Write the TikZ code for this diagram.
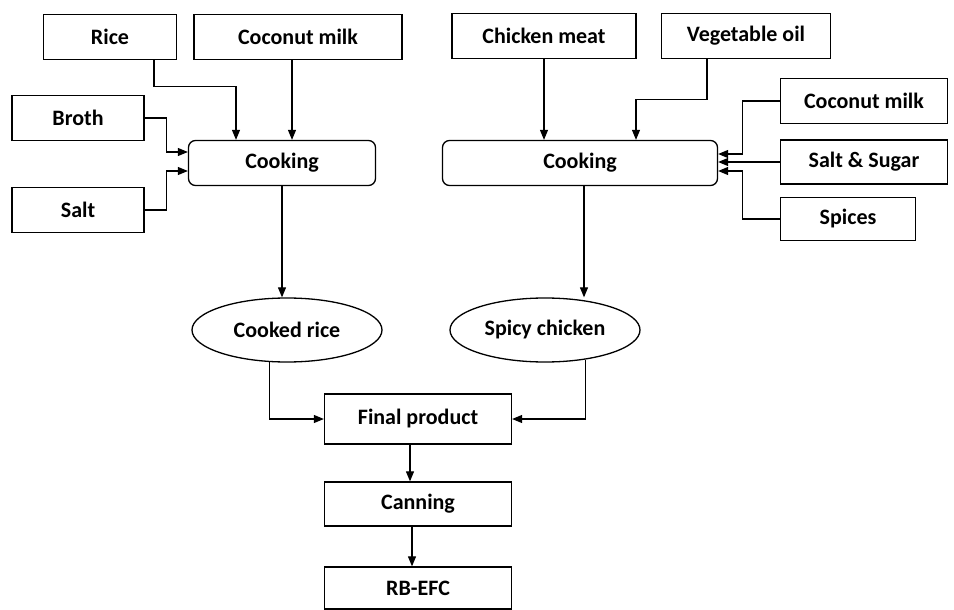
\documentclass[tikz,border=0pt]{standalone}
\usepackage{fontspec}
\setmainfont{Carlito}
\usepackage{tikz}
\usetikzlibrary{arrows.meta,shapes.geometric}

\tikzset{
    box/.style={draw, rectangle, line width=1.3pt, inner sep=0pt, minimum height=45pt},
    proc/.style={box, rounded corners=7pt},
    prod/.style={draw, ellipse, line width=1.3pt, inner sep=0pt, minimum width=190pt, minimum height=64pt},
    arr/.style={-{Triangle[length=10pt,width=8pt]}, line width=1.1pt}
}

\begin{document}
\begin{tikzpicture}[x=1pt, y=-1pt, font=\fontsize{22}{26}\selectfont\bfseries]
        \useasboundingbox (0,0) rectangle (954,610);
        % rice side
        \node[box, minimum width=133pt] (rice) at (110,37) {Rice};
        \node[box, minimum width=208pt] (milkA) at (298,37) {Coconut milk};
        \node[box, minimum width=132pt] (broth) at (78,118) {Broth};
        \node[box, minimum width=132pt] (salt) at (78,210) {Salt};
        \node[proc, minimum width=187pt] (cookA) at (282,163) {Cooking};
        \node[prod] (riceC) at (287,330) {Cooked rice};
        % chicken side
        \node[box, minimum width=184pt] (chick) at (544,36) {Chicken meat};
        \node[box, minimum width=169pt] (oil) at (746,36) {Vegetable oil};
        \node[box, minimum width=167pt] (milkB) at (864,101) {Coconut milk};
        \node[box, minimum width=167pt, minimum height=44pt] (sugar) at (864,162) {Salt \& Sugar};
        \node[box, minimum width=135pt, minimum height=43pt] (spices) at (848,219) {Spices};
        \node[proc, minimum width=275pt] (cookB) at (580,163) {Cooking};
        \node[prod] (chickC) at (545,330) {Spicy chicken};
        % end of line
        \node[box, minimum width=187pt, minimum height=50pt] (final) at (418,419) {Final product};
        \node[box, minimum width=187pt, minimum height=44pt] (can) at (418,504) {Canning};
        \node[box, minimum width=187pt, minimum height=42pt] (rb) at (418,588) {RB-EFC};

        \draw[arr] ([xshift=44pt]rice.south) -- ++(0,26) -| ([xshift=-46pt]cookA.north);
        \draw[arr] ([xshift=-6pt]milkA.south) -- ([xshift=10pt]cookA.north);
        \draw[arr] (broth.east) -- ++(22,0) |- ([yshift=11pt]cookA.west);
        \draw[arr] (salt.east) -- ++(22,0) |- ([yshift=-8pt]cookA.west);
        \draw[arr] (cookA.south) -- (cookA.south |- riceC.north);

        \draw[arr] (chick.south) -- (chick.south |- cookB.north);
        \draw[arr] ([xshift=-39pt]oil.south) -- ++(0,40) -| ([xshift=56pt]cookB.north);
        \draw[arr] (milkB.west) -- ++(-37,0) |- ([yshift=9pt]cookB.east);
        \draw[arr] (sugar.west) -- (sugar.west -| cookB.east);
        \draw[arr] (spices.west) -- ++(-37,0) |- ([yshift=-8pt]cookB.east);
        \draw[arr] ([xshift=4pt]cookB.south) -- ([xshift=4pt]cookB.south |- chickC.north);

        \draw[arr] (riceC.-118) |- (final.west);
        \draw[arr] (chickC.-36) |- (final.east);
        \draw[arr] ([xshift=-8pt]final.south) -- ([xshift=-8pt]final.south |- can.north);
        \draw[arr] ([xshift=-6pt]can.south) -- ([xshift=-6pt]can.south |- rb.north);
    \end{tikzpicture}
\end{document}
